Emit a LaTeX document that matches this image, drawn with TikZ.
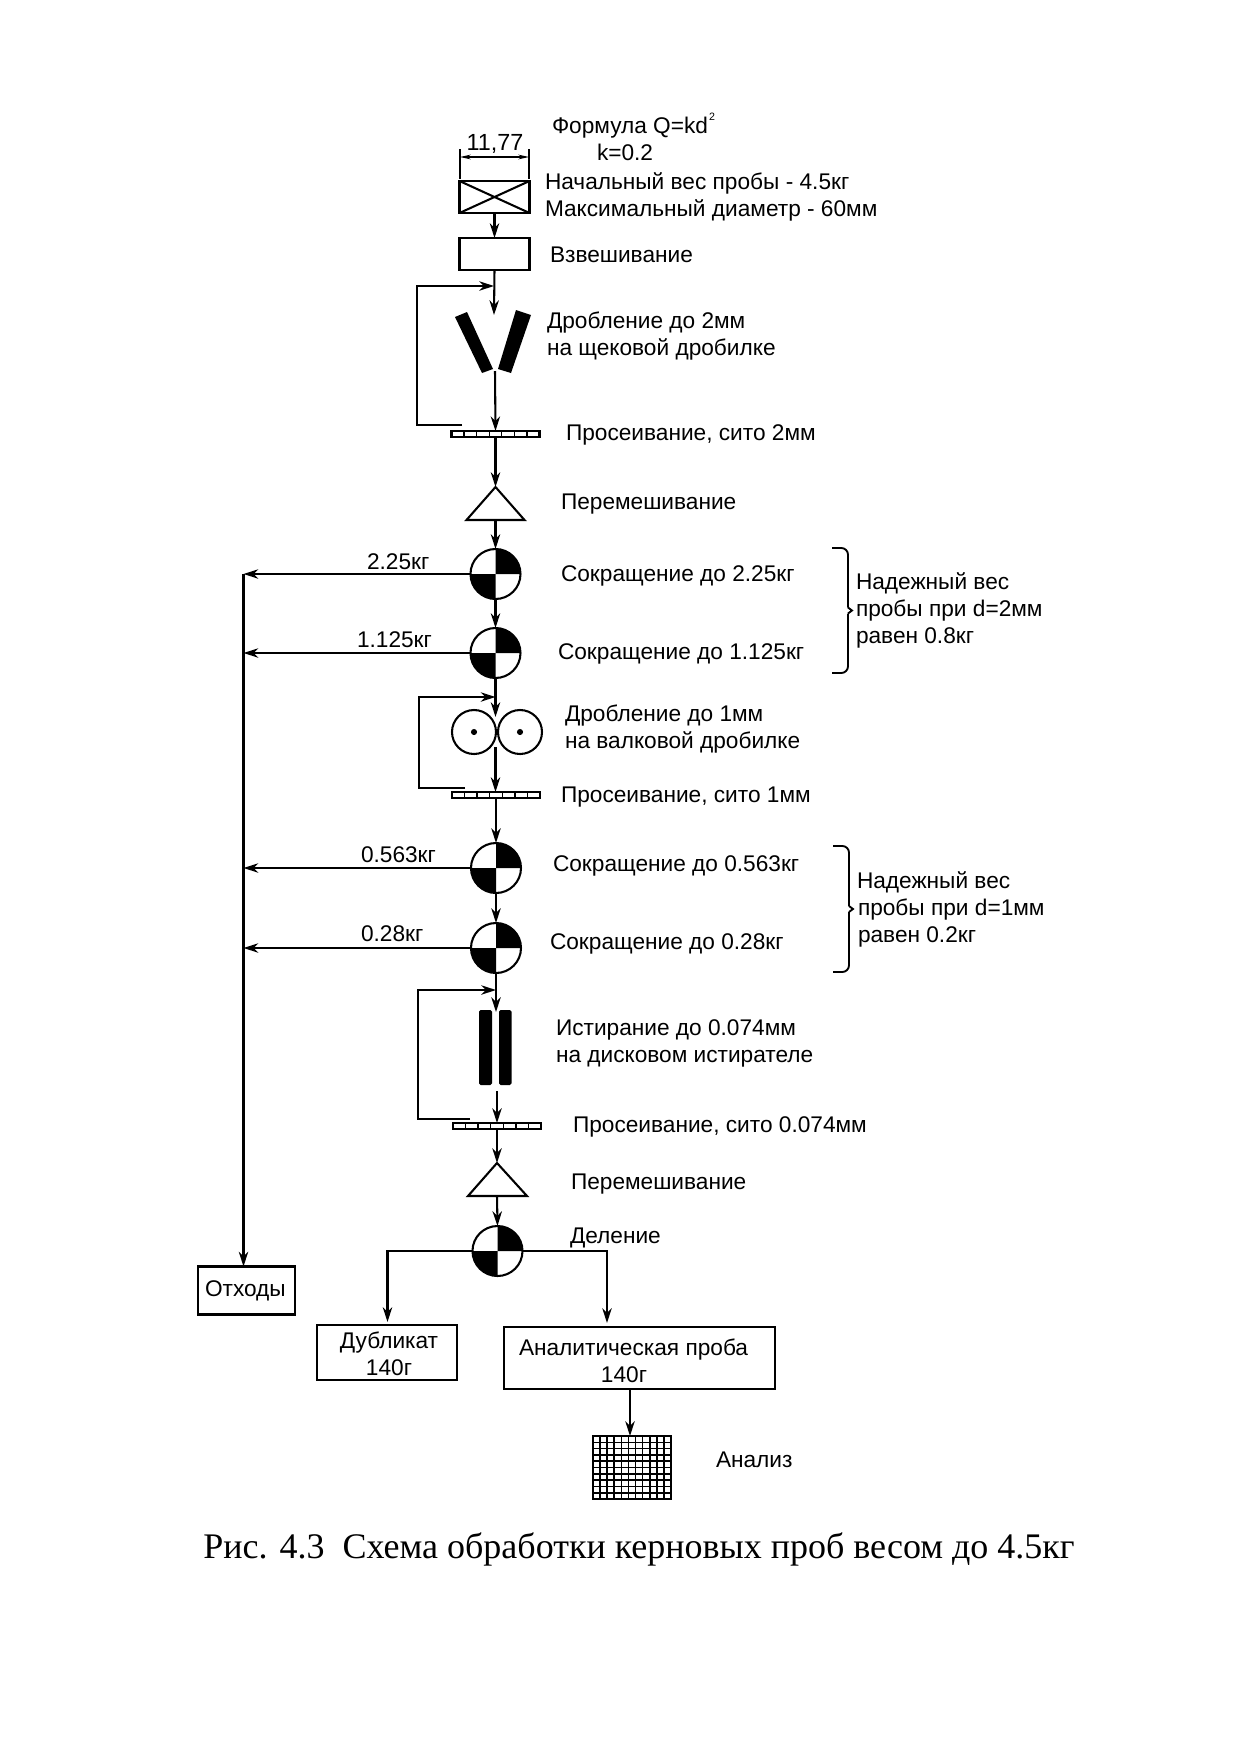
\documentclass[tikz,border=0pt]{standalone}
\usepackage{fontspec}
\setmainfont{Liberation Sans}
\newfontfamily\capfont{Liberation Serif}
\usetikzlibrary{arrows.meta}
\tikzset{
  x=0.75pt,y=-0.75pt,
  ln/.style={line width=1.55pt,line join=miter},
  arr/.style={ln,-{Stealth[length=11pt,width=7pt,inset=3.5pt]}},
  pxbox/.style 2 args={draw,line width=1.55pt,inner sep=0pt,outer sep=0pt,minimum width=#1*0.75pt,minimum height=#2*0.75pt},
  lbl/.style={anchor=west,inner sep=0pt,outer sep=0pt,font=\fontsize{17pt}{20pt}\selectfont,text height=12.5pt,text depth=1pt},
  ctr/.style={lbl,anchor=center},
  split/.style={circle,draw,line width=1.55pt,inner sep=0pt,outer sep=0pt,minimum size=37.5pt},
  roller/.style={circle,draw,line width=1.55pt,inner sep=0pt,outer sep=0pt,minimum size=33pt},
  brc/.style={line width=1.4pt,rounded corners=5pt},
}
\newcommand{\splitc}[3]{%
  \node[split] (#1) at (#2,#3) {};
  \fill (#1.center) -- (#1.north) arc[start angle=90,end angle=0,radius=18.75pt] -- cycle;
  \fill (#1.center) -- (#1.south) arc[start angle=270,end angle=180,radius=18.75pt] -- cycle;
}
\newcommand{\sievec}[3]{%
  \node[pxbox={88}{6}] (#1) at (#2,#3) {};
  \foreach \i in {1,...,6} \draw[line width=1pt] ({#2-44+\i*88/7},#3-3) -- ({#2-44+\i*88/7},#3+3);
}
\newcommand{\bracec}[4]{% name, x, top, bottom
  \coordinate (#1) at (#2+20,{(#3+#4)/2});
  \draw[brc] (#2,#3) -- (#2+16,#3) -- (#2+16,{(#3+#4)/2-3});
  \draw[brc] (#2,#4) -- (#2+16,#4) -- (#2+16,{(#3+#4)/2+3});
  \draw[line width=1.4pt] (#2+16,{(#3+#4)/2-3}) -- (#1) -- (#2+16,{(#3+#4)/2+3});
}
\newcommand{\lab}[4]{\node[lbl] (#1) at (#2,#3) {#4};}
\begin{document}
\begin{tikzpicture}
\useasboundingbox (0,0) rectangle (1241,1757);
\node[pxbox={70}{32}] (start) at (494.5,197) {};
\draw[ln] (start.north west) -- (start.south east) (start.north east) -- (start.south west);
\node[pxbox={70}{32}] (weigh) at (494.5,254) {};
\coordinate (dimL) at (460,157); \coordinate (dimR) at (529,157);
\draw[line width=0.8pt] (460,149) -- (460,179) (529,149) -- (529,179);
\draw[line width=0.9pt,{Stealth[length=8pt,width=3.5pt]}-{Stealth[length=8pt,width=3.5pt]}] (dimL) -- (dimR);
\node[ctr,font=\fontsize{17.5pt}{20pt}\selectfont] (dimtext) at (495,143) {11,77};
\fill (455,317) -- (467,312) -- (493,369) -- (482,373) -- cycle;
\fill (516,310) -- (531,315) -- (511,373) -- (498,369) -- cycle;
\coordinate (jawin) at (494,315);
\coordinate (jawout) at (495,371);
\sievec{s1}{495.5}{434}
\coordinate (t1a) at (495.5,487);
\coordinate (t1b) at (495.5,520);
\draw[ln] (495.5,487) -- (524.5,520) -- (466.5,520) -- cycle;
\splitc{c1}{495.5}{574}
\splitc{c2}{495.5}{653}
\node[roller] (r1) at (474,732) {}; \node[roller] (r2) at (520,732) {};
\fill (r1.center) circle[radius=2.3pt]; \fill (r2.center) circle[radius=2.3pt];
\coordinate (rin) at (495.5,717); \coordinate (rout) at (495.5,747);
\sievec{s2}{496}{795}
\splitc{c3}{496}{868}
\splitc{c4}{496}{948}
\fill[rounded corners=1.2pt] (479,1010) rectangle (492,1085);
\fill[rounded corners=1.2pt] (499,1010) rectangle (511.5,1085);
\coordinate (din) at (496,1012); \coordinate (dout) at (497,1091);
\sievec{s3}{497}{1126}
\coordinate (t2a) at (497,1163); \coordinate (t2b) at (497,1196);
\draw[ln] (497,1163) -- (527,1196) -- (468,1196) -- cycle;
\splitc{c5}{497.5}{1251}
\coordinate (wtop) at (243.5,574);
\coordinate (w2) at (243.5,653);
\coordinate (w3) at (243.5,868);
\coordinate (w4) at (243.5,948);
\node[pxbox={97}{48}] (waste) at (246.5,1290.5) {};
\node[pxbox={140}{55}] (dup) at (387,1352.5) {};
\node[pxbox={271}{62}] (anal) at (639.5,1358) {};
\node[pxbox={78}{63}] (grid) at (632,1467.5) {};
\foreach \i in {1,...,10} \draw[line width=1.2pt] ({593+\i*78/11},1436) -- ({593+\i*78/11},1499);
\foreach \i in {1,...,9} \draw[line width=1.2pt] (593,{1436+\i*63/10}) -- (671,{1436+\i*63/10});
\draw[arr] (start.south) -- (weigh.north);
\draw[arr] (weigh.south) -- (jawin);
\draw[arr] (462,425) -- (417,425) -- (417,286) -- (494,286);
\draw[arr] (jawout) -- (s1.north);
\draw[arr] (s1.south) -- (t1a);
\draw[arr] (t1b) -- (c1.north);
\draw[arr] (c1.south) -- (c2.north);
\draw[arr] (c2.south) -- (rin);
\draw[arr] (465,788) -- (419,788) -- (419,697) -- (495.5,697);
\draw[arr] (rout) -- (495.5,792);
\draw[arr] (s2.south) -- (c3.north);
\draw[arr] (c3.south) -- (c4.north);
\draw[arr] (c4.south) -- (din);
\draw[arr] (470,1119) -- (418,1119) -- (418,990) -- (496,990);
\draw[arr] (dout) -- (s3.north);
\draw[arr] (s3.south) -- (t2a);
\draw[arr] (t2b) -- (c5.north);
\draw[arr] (c1.west) -- (wtop);
\draw[arr] (c2.west) -- (w2);
\draw[arr] (c3.west) -- (w3);
\draw[arr] (c4.west) -- (w4);
\draw[arr] (wtop) -- (243.5,1266.5);
\draw[arr] (c5.west) -- (387.5,1251) -- (387.5,1322);
\draw[arr] (c5.east) -- (607,1251) -- (607,1323);
\draw[arr] (630,1389) -- (630,1436);
\bracec{b1}{832}{548}{673}
\bracec{b2}{833}{846}{972}
\lab{f1}{552}{126}{Формула Q=kd}
\node[font=\fontsize{8pt}{10pt}\selectfont,inner sep=0pt] (f1s) at (712,117) {2};
\lab{f2}{597}{153}{k=0.2}
\lab{f3}{545}{182}{Начальный вес пробы - 4.5кг}
\lab{f4}{545}{209}{Максимальный диаметр - 60мм}
\lab{t1}{550}{255}{Взвешивание}
\lab{t2}{547}{321}{Дробление до 2мм}
\lab{t3}{547}{348}{на щековой дробилке}
\lab{t4}{566}{433}{Просеивание, сито 2мм}
\lab{t5}{561}{502}{Перемешивание}
\lab{t6}{561}{574}{Сокращение до 2.25кг}
\lab{t7}{558}{652}{Сокращение до 1.125кг}
\lab{w1a}{367}{562}{2.25кг}
\lab{w2a}{357}{640}{1.125кг}
\lab{n1}{856}{582}{Надежный вес}
\lab{n2}{856}{609}{пробы при d=2мм}
\lab{n3}{856}{636}{равен 0.8кг}
\lab{t8}{565}{714}{Дробление до 1мм}
\lab{t9}{565}{741}{на валковой дробилке}
\lab{t10}{561}{795}{Просеивание, сито 1мм}
\lab{t11}{553}{864}{Сокращение до 0.563кг}
\lab{t12}{550}{942}{Сокращение до 0.28кг}
\lab{w3a}{361}{855}{0.563кг}
\lab{w4a}{361}{934}{0.28кг}
\lab{m1}{857}{881}{Надежный вес}
\lab{m2}{858}{908}{пробы при d=1мм}
\lab{m3}{858}{935}{равен 0.2кг}
\lab{t13}{556}{1028}{Истирание до 0.074мм}
\lab{t14}{556}{1055}{на дисковом истирателе}
\lab{t15}{573}{1125}{Просеивание, сито 0.074мм}
\lab{t16}{571}{1182}{Перемешивание}
\lab{t17}{570}{1236}{Деление}
\lab{t18}{205}{1289}{Отходы}
\node[ctr] (d1) at (389,1341) {Дубликат};
\node[ctr] (d2) at (389,1368) {140г};
\lab{a1}{519}{1348}{Аналитическая проба}
\node[ctr] (a2) at (624,1375) {140г};
\lab{a3}{716}{1460}{Анализ}
\node[anchor=west,inner sep=0pt,font=\capfont\fontsize{27pt}{30pt}\selectfont] (cap) at (203,1549) {Рис. 4.3\ \ Схема обработки керновых проб весом до 4.5кг};
\end{tikzpicture}
\end{document}
